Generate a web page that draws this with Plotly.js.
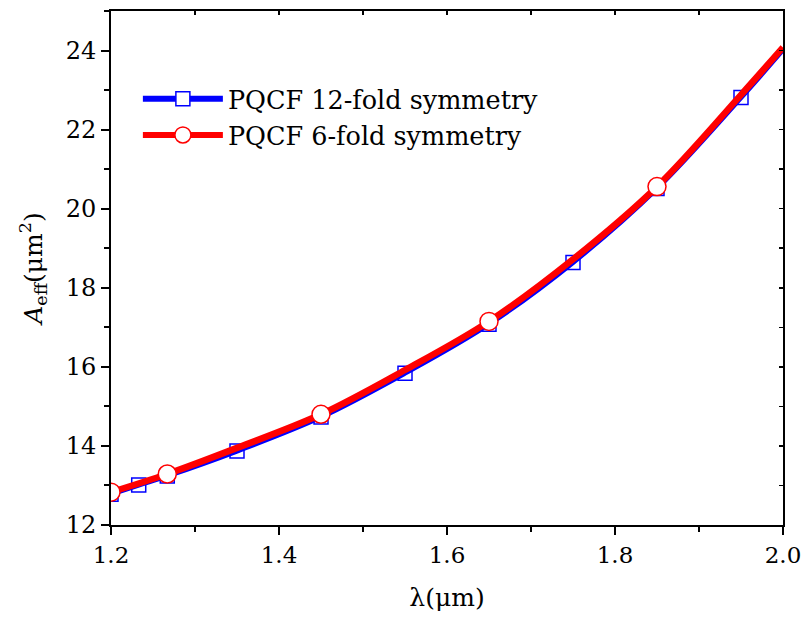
<!DOCTYPE html>
<html>
<head>
<meta charset="utf-8">
<script src="https://cdn.plot.ly/plotly-3.0.1.min.js"></script>
<style>html,body{margin:0;padding:0;background:#fff;}#chart{width:802px;height:624px;}</style>
</head>
<body>
<div id="chart"></div>
<script>
// Wavelength (µm) and effective area (µm²)
var xBlue = [1.2, 1.233, 1.267, 1.35, 1.45, 1.55, 1.65, 1.75, 1.85, 1.95, 2.0];
var yBlue = [12.78, 13.01, 13.24, 13.87, 14.73, 15.84, 17.08, 18.64, 20.51, 22.81, 24.02];
var blueMarked = [1, 1, 1, 1, 1, 1, 1, 1, 1, 1, 0];

var xRed = [1.2, 1.267, 1.35, 1.45, 1.55, 1.65, 1.75, 1.85, 1.95, 2.0];
var yRed = [12.83, 13.29, 13.95, 14.80, 15.92, 17.15, 18.72, 20.56, 22.88, 24.08];
var redMarked = [1, 1, 0, 1, 0, 1, 0, 1, 0, 0];

var nameBlue = 'PQCF 12-fold symmetry';
var nameRed = 'PQCF 6-fold symmetry';

function pick(arr, flags) { return arr.filter(function (v, i) { return flags[i]; }); }

var FONT = 'DejaVu Serif';
var traces = [
  {x: xBlue, y: yBlue, mode: 'lines', line: {color: '#0000ff', width: 5, shape: 'spline'}, showlegend: false, hoverinfo: 'skip'},
  {x: pick(xBlue, blueMarked), y: pick(yBlue, blueMarked), mode: 'markers', showlegend: false,
   marker: {symbol: 'square-open', size: 14, color: '#0000ff', line: {width: 1.5, color: '#0000ff'}}},
  {x: xRed, y: yRed, mode: 'lines', line: {color: '#ff0000', width: 6.5, shape: 'spline'}, showlegend: false, hoverinfo: 'skip'},
  {x: pick(xRed, redMarked), y: pick(yRed, redMarked), mode: 'markers', showlegend: false,
   marker: {symbol: 'circle', size: 18, color: '#ffffff', line: {width: 1.5, color: '#ff0000'}}},
  {x: [null], y: [null], mode: 'lines+markers', name: nameBlue,
   line: {color: '#0000ff', width: 6}, marker: {symbol: 'square', size: 14, color: '#ffffff', line: {width: 1.5, color: '#0000ff'}}},
  {x: [null], y: [null], mode: 'lines+markers', name: nameRed,
   line: {color: '#ff0000', width: 6}, marker: {symbol: 'circle', size: 16, color: '#ffffff', line: {width: 1.5, color: '#ff0000'}}},
  {x: [null], y: [null], xaxis: 'x2', yaxis: 'y2', showlegend: false, hoverinfo: 'skip', mode: 'markers'}
];

var layout = {
  width: 802, height: 624,
  margin: {l: 111, r: 19, t: 11, b: 99},
  paper_bgcolor: '#ffffff', plot_bgcolor: '#ffffff',
  font: {family: FONT, color: '#000000', size: 24},
  showlegend: true,
  legend: {x: 0.04, y: 0.874, xanchor: 'left', yanchor: 'top', bgcolor: 'rgba(0,0,0,0)',
           font: {family: FONT, size: 25.5, color: '#000'}, itemwidth: 80},
  xaxis: {range: [1.2, 2.0], tickvals: [1.2, 1.4, 1.6, 1.8, 2.0], ticktext: ['1.2', '1.4', '1.6', '1.8', '2.0'],
          ticklabeloverflow: 'allow',
          ticks: 'outside', ticklen: 8, tickwidth: 2, tickcolor: '#000',
          minor: {dtick: 0.1, tick0: 1.2, ticks: 'outside', ticklen: 5, tickwidth: 2, tickcolor: '#000'},
          showline: true, linewidth: 2, linecolor: '#000', mirror: true, showgrid: false, zeroline: false,
          tickfont: {family: FONT, size: 23, color: '#000'},
          title: {text: 'λ(μm)', font: {family: FONT, size: 25, color: '#000'}, standoff: 22}},
  yaxis: {range: [12, 25], tickvals: [12, 14, 16, 18, 20, 22, 24],
          ticks: 'outside', ticklen: 8, tickwidth: 2, tickcolor: '#000',
          minor: {dtick: 1, tick0: 12, ticks: 'outside', ticklen: 5, tickwidth: 2, tickcolor: '#000'},
          showline: true, linewidth: 2, linecolor: '#000', mirror: true, showgrid: false, zeroline: false,
          tickfont: {family: FONT, size: 24, color: '#000'},
          title: {text: '<i>A</i><sub>eff</sub>(μm<sup>2</sup>)', font: {family: FONT, size: 25, color: '#000'}, standoff: 16}},
  xaxis2: {overlaying: 'x', side: 'top', anchor: 'y2', range: [1.2, 2.0], dtick: 0.1, tick0: 1.2, ticks: 'inside', ticklen: 4,
           tickwidth: 1.5, tickcolor: '#000', showticklabels: false, showgrid: false, zeroline: false, showline: false},
  yaxis2: {overlaying: 'y', side: 'right', anchor: 'x2', range: [12, 25], dtick: 1, tick0: 12, ticks: 'inside', ticklen: 4,
           tickwidth: 1.5, tickcolor: '#000', showticklabels: false, showgrid: false, zeroline: false, showline: false}
};

Plotly.newPlot('chart', traces, layout, {displayModeBar: false, staticPlot: true});
</script>
</body>
</html>
